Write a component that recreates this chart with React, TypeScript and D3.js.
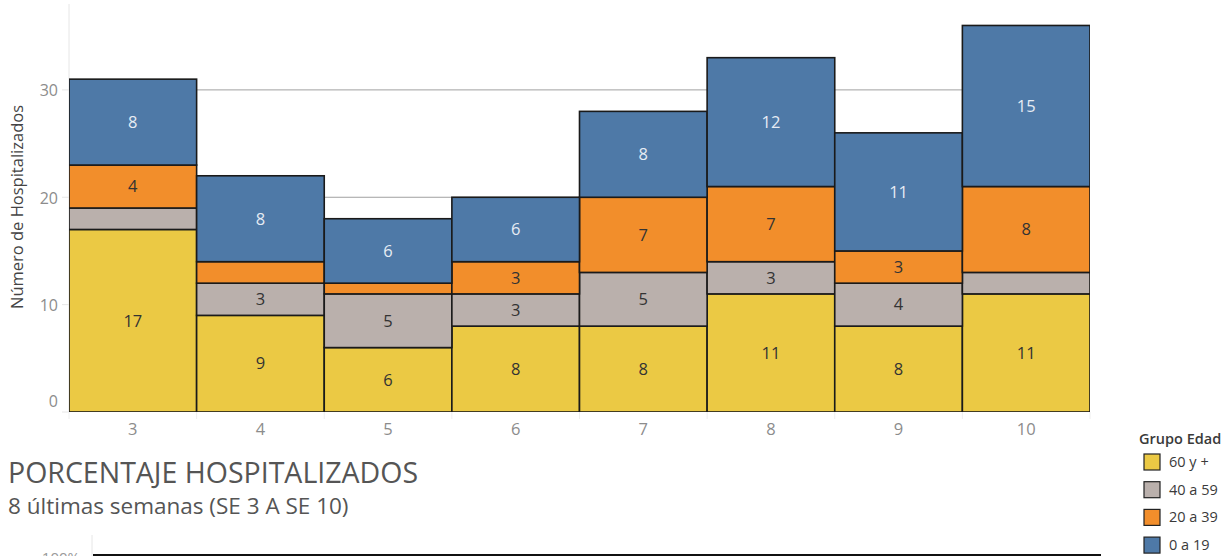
import React from "react";
import * as d3 from "d3";

const weeks = ["3", "4", "5", "6", "7", "8", "9", "10"];
const groups = ["60 y +", "40 a 59", "20 a 39", "0 a 19"];
const v60 = [17, 9, 6, 8, 8, 11, 8, 11];
const v40 = [2, 3, 5, 3, 5, 3, 4, 2];
const v20 = [4, 2, 1, 3, 7, 7, 3, 8];
const v0 = [8, 8, 6, 6, 8, 12, 11, 15];
const colors = ["#EBC944", "#BAB0AC", "#F28E2B", "#4E79A7"];
const yTicks = [0, 10, 20, 30];

const FONT = "'Open Sans', 'Noto Sans', sans-serif";

export default function App() {
  const W = 1224, H = 556;
  const x = d3.scaleBand().domain(weeks).range([69, 1090]).padding(0);
  const y = d3.scaleLinear().domain([0, 38]).range([412, 4]);
  const table = weeks.map((w, i) => ({ week: w, "60 y +": v60[i], "40 a 59": v40[i], "20 a 39": v20[i], "0 a 19": v0[i] }));
  const stacked = d3.stack<any>().keys(groups)(table);
  const color = d3.scaleOrdinal<string, string>().domain(groups).range(colors);

  return (
    <svg width={W} height={H} style={{ position: "absolute", left: 0, top: 0, fontFamily: FONT }}>
      <defs>
        <clipPath id="plot">
          <rect x={69} y={0} width={1090 - 69} height={412} />
        </clipPath>
      </defs>
      {/* axis line and ticks */}
      <line x1={69} x2={69} y1={4} y2={412} stroke="#e6e6e6" />
      {yTicks.map((t) => (
        <line key={"tk" + t} x1={62} x2={69} y1={y(t)} y2={y(t)} stroke="#e6e6e6" />
      ))}
      {weeks.map((w) => (
        <line key={"xt" + w} x1={x(w)!} x2={x(w)!} y1={412} y2={419} stroke="#eeeeee" />
      ))}
      <line x1={1090} x2={1090} y1={412} y2={419} stroke="#eeeeee" />
      {yTicks.filter((t) => t > 0).map((t) => (
        <line key={"g" + t} x1={69} x2={1090} y1={y(t)} y2={y(t)} stroke="#a0a0a0" strokeWidth={1} />
      ))}
      {yTicks.map((t) => (
        <text key={"yl" + t} x={58} y={y(t) + (t === 0 ? -11 : 1)} dy="0.35em" textAnchor="end" fontSize={16} fill="#8c8c8c">
          {t}
        </text>
      ))}
      <text transform={`translate(23,207) rotate(-90)`} textAnchor="middle" fontSize={16.5} fill="#444">
        Número de Hospitalizados
      </text>
      {/* bars */}
      <g clipPath="url(#plot)">
        {stacked.map((s, gi) =>
          s.map((d, i) => (
            <rect
              key={gi + "-" + i}
              x={x(weeks[i])!}
              y={y(d[1])}
              width={x.bandwidth()}
              height={y(d[0]) - y(d[1])}
              fill={color(groups[gi])}
              stroke="#1a1a1a"
              strokeWidth={1.6}
            />
          ))
        )}
      </g>
      {stacked.map((s, gi) =>
        s.map((d, i) => {
          const v = d[1] - d[0];
          if (v < 3) return null;
          return (
            <text
              key={"l" + gi + "-" + i}
              x={x(weeks[i])! + x.bandwidth() / 2}
              y={(y(d[0]) + y(d[1])) / 2}
              dy="0.35em"
              textAnchor="middle"
              fontSize={16.5}
              fill={gi === 3 ? "#e6ecf4" : "#333"}
            >
              {v}
            </text>
          );
        })
      )}
      {weeks.map((w) => (
        <text key={"xl" + w} x={x(w)! + x.bandwidth() / 2} y={429} dy="0.35em" textAnchor="middle" fontSize={16.5} fill="#8c8c8c">
          {w}
        </text>
      ))}
      {/* legend */}
      <text x={1139} y={444} fontSize={14.5} fontWeight={600} fill="#3a3a3a">Grupo Edad</text>
      {groups.map((g, i) => (
        <g key={"lg" + g} transform={`translate(1144,${454 + i * 27.7})`}>
          <rect x={0} y={0} width={16} height={16} fill={color(g)} stroke="#222" strokeWidth={1.2} />
          <text x={25} y={8} dy="0.35em" fontSize={14.5} fill="#3a3a3a">{g}</text>
        </g>
      ))}
      {/* titles */}
      <text x={8} y={483} fontSize={28.5} fill="#555">PORCENTAJE HOSPITALIZADOS</text>
      <text x={8} y={514} fontSize={22.5} fill="#555">8 últimas semanas (SE 3 A SE 10)</text>
      <line x1={92} x2={92} y1={535} y2={556} stroke="#e6e6e6" />
      <text x={80} y={563} textAnchor="end" fontSize={15} fill="#999">100%</text>
      <line x1={93} x2={1101} y1={555} y2={555} stroke="#111" strokeWidth={2} />
    </svg>
  );
}
